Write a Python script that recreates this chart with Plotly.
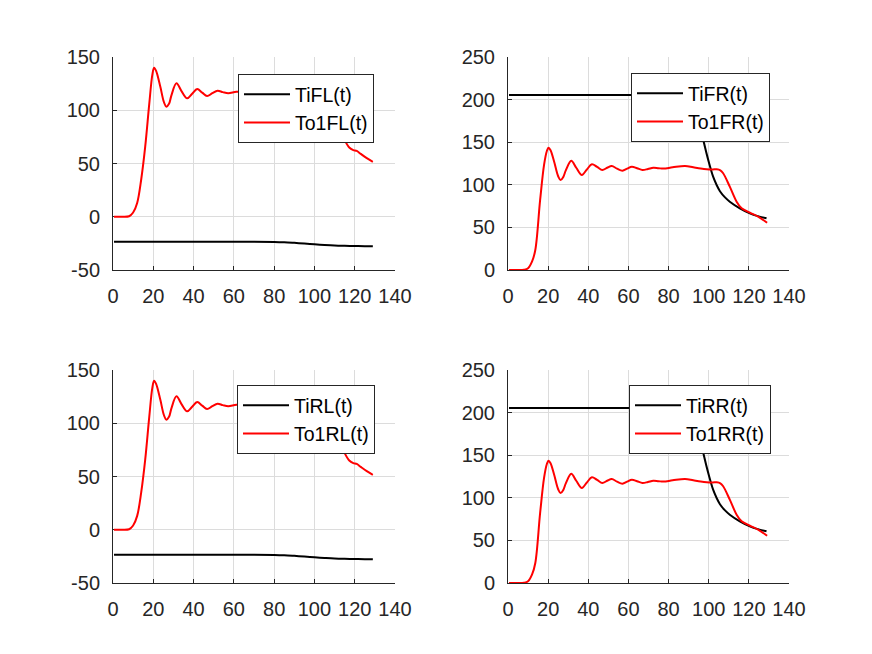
import plotly.graph_objects as go

# ── data ─────────────────────────────────────────────────────────────────────

t_ti_fl = [0.5, 20, 40, 60, 80, 85, 90, 95, 100, 105, 110, 115, 120, 125, 129]
ti_fl = [-23.5, -23.5, -23.5, -23.5, -23.6, -23.9, -24.5, -25.2, -25.9, -26.5,
         -27.0, -27.3, -27.5, -27.7, -27.8]

t_to1_fl = [0.5, 4, 8, 10, 12, 14, 16, 18, 19.5, 20.4, 21.4, 23.5, 25.3,
            26.5, 27.8, 29, 31.5, 34, 36.8, 39.3, 41.8, 44.3, 46.7, 49.3,
            51.9, 54.5, 57.2, 61.3, 66, 72, 80, 90, 98, 104, 108, 111, 113,
            115, 117.3, 119.3, 121, 123, 126, 129]
to1_fl = [0, 0, 0.5, 4, 13, 35, 66, 106, 133, 140, 137, 122, 107.5, 103.3,
          106, 114, 125.3, 118, 111.2, 115.5, 119.9, 116.5, 113.3, 116, 118.3,
          117, 115.9, 117.4, 117.2, 117.6, 118, 118.2, 117.5, 115, 105, 90, 80,
          72, 65, 62.6, 61.8, 59, 55, 51.6]

t_ti_fr = [0.5, 20, 40, 60, 80, 88, 91, 93, 95, 97.3, 100.2, 102.2, 104,
           105.6, 108, 110.5, 115.5, 120.5, 124.5, 128.8]
ti_fr = [205.4, 205.4, 205.4, 205.4, 205.4, 205.2, 203, 195, 178, 152.6,
         125.2, 109.5, 99.5, 92.5, 85.5, 80.2, 72.4, 66.5, 63.2, 60.7]

t_to1_fr = [0.5, 4, 8, 10, 12, 13.6, 16, 18, 19.4, 20.2, 21.2, 23, 25, 26.2,
            27.5, 28.8, 31.5, 34, 36.8, 39.3, 41.8, 44.4, 47, 49.4, 51.7,
            54.3, 57, 59.4, 61.7, 64.3, 67, 69.7, 72.4, 75, 77.4, 82, 88.2,
            92.3, 96, 99, 102, 104, 105.8, 107.2, 110.5, 113.9, 116.4, 120.5,
            124.6, 129.1]
to1_fr = [0, 0, 0.3, 2, 10, 23.5, 82, 124, 140, 143.6, 140.5, 127, 110,
          105.6, 109, 117, 128.3, 120, 111.5, 118, 124, 121, 117.4, 120, 122,
          119, 116.6, 119, 121.3, 119.5, 117.4, 118.5, 120, 119.5, 119, 120.5,
          122.2, 120.5, 119, 118.2, 118, 118.2, 117, 113.5, 97.8, 80.2, 72.4,
          67.3, 62.6, 55.5]

# rear wheels read the same as the front ones
t_ti_rl, ti_rl = list(t_ti_fl), list(ti_fl)
t_to1_rl, to1_rl = list(t_to1_fl), list(to1_fl)
t_ti_rr, ti_rr = list(t_ti_fr), list(ti_fr)
t_to1_rr, to1_rr = list(t_to1_fr), list(to1_fr)

x_ticks = [0, 20, 40, 60, 80, 100, 120, 140]
x_labels = ["0", "20", "40", "60", "80", "100", "120", "140"]
y_ticks_left = [-50, 0, 50, 100, 150]
y_labels_left = ["-50", "0", "50", "100", "150"]
y_ticks_right = [0, 50, 100, 150, 200, 250]
y_labels_right = ["0", "50", "100", "150", "200", "250"]

# ── styling ──────────────────────────────────────────────────────────────────

_FONT = "Liberation Sans, Arial, Helvetica, sans-serif"
_INK = "#262626"
_GRID = "#dcdcdc"
W, H = 872, 654
PAGE = 8  # the page body margin shifts the figure by this many px

panels = [
    # suffix, legend id, x domain px, y domain px, y ticks, black, red, legend pos px
    ("", "legend", (113, 395), (57, 270), (y_ticks_left, y_labels_left),
     ("TiFL(t)", t_ti_fl, ti_fl), ("To1FL(t)", t_to1_fl, to1_fl), (238, 74)),
    ("2", "legend2", (508, 789), (57, 270), (y_ticks_right, y_labels_right),
     ("TiFR(t)", t_ti_fr, ti_fr), ("To1FR(t)", t_to1_fr, to1_fr), (631, 73)),
    ("3", "legend3", (113, 395), (370, 583), (y_ticks_left, y_labels_left),
     ("TiRL(t)", t_ti_rl, ti_rl), ("To1RL(t)", t_to1_rl, to1_rl), (237, 385)),
    ("4", "legend4", (508, 789), (370, 583), (y_ticks_right, y_labels_right),
     ("TiRR(t)", t_ti_rr, ti_rr), ("To1RR(t)", t_to1_rr, to1_rr), (629, 385)),
]


def _px_x(v):
    return (v - PAGE) / W


def _px_y(v):
    return 1 - (v - PAGE) / H


fig = go.Figure()
layout = {}

for sfx, leg, xd, yd, (yt, yl), black, red, lpos in panels:
    for name, xs, ys, color in ((black[0], black[1], black[2], "#000000"),
                                (red[0], red[1], red[2], "#ff0000")):
        fig.add_trace(go.Scatter(
            x=xs, y=ys, name=name, mode="lines",
            line=dict(color=color, width=2, shape="spline", smoothing=1.0),
            xaxis="x" + sfx, yaxis="y" + sfx,
            legend=leg, legendgroup=f"{leg}-{name}",
        ))

    axis_common = dict(
        showline=True, linecolor=_INK, linewidth=1,
        showgrid=True, gridcolor=_GRID, gridwidth=1,
        ticks="inside", ticklen=4, tickcolor=_INK,
        tickfont=dict(family=_FONT, size=20, color=_INK),
        zeroline=False, mirror=False, automargin=False,
        layer="below traces",
    )
    layout["xaxis" + sfx] = dict(
        axis_common,
        domain=[_px_x(xd[0]), _px_x(xd[1])],
        range=[0, 140], tickvals=x_ticks, ticktext=x_labels,
        anchor="y" + sfx, ticklabelstandoff=8,
    )
    layout["yaxis" + sfx] = dict(
        axis_common,
        domain=[_px_y(yd[1]), _px_y(yd[0])],
        range=[yt[0], yt[-1]], tickvals=yt, ticktext=yl,
        anchor="x" + sfx, ticklabelstandoff=8,
    )
    layout[leg] = dict(
        x=_px_x(lpos[0]), y=_px_y(lpos[1]),
        xanchor="left", yanchor="top",
        bgcolor="#ffffff", bordercolor=_INK, borderwidth=1,
        font=dict(family=_FONT, size=19.5, color="#000000"),
        tracegroupgap=0, itemwidth=46,
    )

fig.update_layout(
    width=W, height=H,
    margin=dict(l=0, r=0, t=0, b=0),
    paper_bgcolor="#ffffff", plot_bgcolor="#ffffff",
    showlegend=True,
    **layout,
)

fig.write_html("out.html")
